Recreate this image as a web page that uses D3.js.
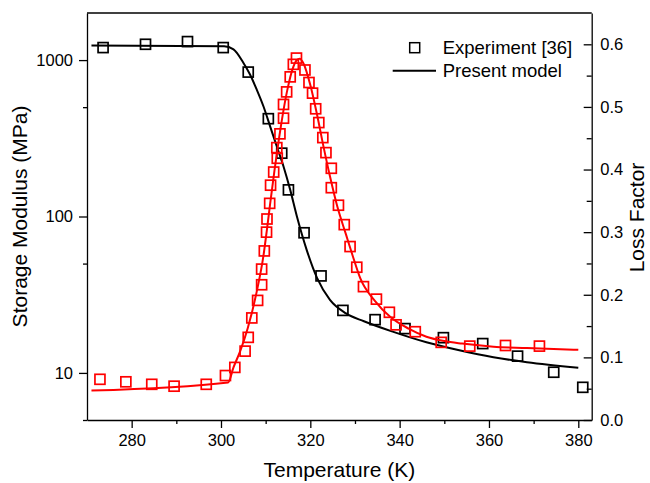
<!DOCTYPE html>
<html>
<head>
<meta charset="utf-8">
<script src="https://cdn.jsdelivr.net/npm/d3@7/dist/d3.min.js"></script>
<style>
  body { margin: 0; background: #fff; }
  svg text { font-family: "Liberation Sans", Arial, sans-serif; fill: #000; }
</style>
</head>
<body>
<svg id="chart" width="650" height="483"></svg>
<script>
// storage modulus, experiment (MPa)
const modT = [273.6, 283.1, 292.5, 300.5, 306.1, 310.6, 313.6, 315.1, 318.6, 322.4, 327.3, 334.5, 341.2, 349.8, 358.6, 366.4, 374.5, 381.0]
const modE = [1202, 1262, 1313, 1202, 838, 422, 254, 148, 78.7, 41.7, 25.1, 21.9, 19.2, 16.8, 15.4, 12.8, 10.1, 8.09]

// storage modulus, model
const modLineT = [271, 300.7, 302.8, 305, 306.5, 308, 309.5, 311, 312.5, 314, 315.5, 317, 319.2, 321.5, 324.4, 328, 332, 338.6, 346, 353.6, 361, 368.5, 380]
const modLineV = [1240, 1224, 1171, 962, 809, 648, 507, 377, 280, 209, 148, 100, 61, 40.5, 29.3, 24.0, 21.4, 18.3, 15.7, 13.9, 12.6, 11.7, 10.8]

// loss factor, experiment
const lossT = [272.9, 278.7, 284.5, 289.5, 296.7, 301.0, 303.1, 305.4, 306.1, 306.9, 308.2, 309.1, 309.1, 309.7,
  310.2, 310.3, 310.9, 311.1, 311.8, 312.6, 312.5, 313.2, 314.0, 314.0, 314.7, 315.5, 316.2, 316.9,
  318.8, 319.7, 320.5, 321.2, 321.9, 322.8, 323.5, 324.7, 324.7, 326.3, 327.6, 328.9, 330.4, 331.9,
  334.8, 337.7, 339.2, 343.5, 349.3, 355.7, 363.7, 371.3]
const lossE = [0.065, 0.061, 0.057, 0.054, 0.057, 0.071, 0.084, 0.110, 0.132, 0.163, 0.191, 0.216, 0.241, 0.270,
  0.300, 0.321, 0.346, 0.375, 0.396, 0.418, 0.435, 0.457, 0.482, 0.504, 0.524, 0.548, 0.568, 0.578,
  0.559, 0.539, 0.522, 0.497, 0.475, 0.451, 0.427, 0.402, 0.371, 0.343, 0.312, 0.277, 0.244, 0.213,
  0.193, 0.172, 0.152, 0.141, 0.124, 0.118, 0.119, 0.118]

// loss factor, model
const lossLineT = [271, 301.6, 302.8, 304.3, 306, 308, 309.5, 310.3, 311, 312, 313, 314, 315, 316, 317, 317.6, 318.5, 320, 321.5, 323, 324.5, 326, 328, 329.5, 331.2, 334.5, 338, 342, 346, 350, 354, 361, 368.5, 380]
const lossLineV = [0.047, 0.060, 0.084, 0.110, 0.147, 0.205, 0.262, 0.305, 0.345, 0.400, 0.450, 0.495, 0.532, 0.560, 0.575, 0.577, 0.569, 0.535, 0.488, 0.435, 0.386, 0.342, 0.296, 0.262, 0.226, 0.190, 0.164, 0.146, 0.133, 0.126, 0.122, 0.117, 0.115, 0.112]

// tick labels
const xTicks = [280, 300, 320, 340, 360, 380]
const xMinor = [290, 310, 330, 350, 370]
const yLeftTicks = [10, 100, 1000]
const yLeftMinor = [5, 50, 500]
const yRightTicks = [0, 0.1, 0.2, 0.3, 0.4, 0.5, 0.6]
const yRightMinor = [0.05, 0.15, 0.25, 0.35, 0.45, 0.55]

const legendLabels = ['Experiment [36]', 'Present model']

var margin = { top: 13, right: 58.3, bottom: 63, left: 87 }
var W = 650, H = 483
var svg = d3.select('#chart')

var x = d3.scaleLinear().domain([270, 383]).range([margin.left, W - margin.right])
var yL = d3.scaleLog().domain([5, 2000]).range([H - margin.bottom, margin.top])
var yR = d3.scaleLinear().domain([0, 0.65]).range([H - margin.bottom, margin.top])

var tickFont = '16.5px'

// frame top line
svg.append('line')
  .attr('x1', margin.left).attr('x2', W - margin.right)
  .attr('y1', margin.top).attr('y2', margin.top)
  .attr('stroke', '#000').attr('stroke-width', 1.3)

// bottom axis
var gx = svg.append('g').attr('transform', 'translate(0,' + (H - margin.bottom) + ')')
gx.call(d3.axisBottom(x).tickValues(xTicks).tickFormat(d3.format('d')).tickSize(8).tickSizeOuter(0).tickPadding(6))
gx.append('g').call(d3.axisBottom(x).tickValues(xMinor).tickFormat('').tickSize(4).tickSizeOuter(0))
  .select('.domain').remove()

// left axis (log)
var gl = svg.append('g').attr('transform', 'translate(' + margin.left + ',0)')
gl.call(d3.axisLeft(yL).tickValues(yLeftTicks).tickFormat(d3.format('d')).tickSize(8).tickSizeOuter(0).tickPadding(6))
gl.append('g').call(d3.axisLeft(yL).tickValues(yLeftMinor).tickFormat('').tickSize(4).tickSizeOuter(0))
  .select('.domain').remove()

// right axis, ticks pointing in
var gr = svg.append('g').attr('transform', 'translate(' + (W - margin.right) + ',0)')
gr.call(d3.axisRight(yR).tickValues(yRightTicks).tickFormat(d3.format('.1f')).tickSize(-8).tickSizeOuter(0).tickPadding(8.5))
gr.append('g').call(d3.axisRight(yR).tickValues(yRightMinor).tickFormat('').tickSize(-5).tickSizeOuter(0))
  .select('.domain').remove()

svg.selectAll('.domain, .tick line').attr('stroke', '#000').attr('stroke-width', 1.3)
svg.selectAll('.tick text').style('font-size', tickFont).attr('fill', '#000')

// axis titles
svg.append('text')
  .attr('x', (margin.left + W - margin.right) / 2).attr('y', 476.5)
  .attr('text-anchor', 'middle').style('font-size', '21px')
  .text('Temperature (K)')

svg.append('text')
  .attr('transform', 'translate(27,' + ((margin.top + H - margin.bottom) / 2) + ') rotate(-90)')
  .attr('text-anchor', 'middle').style('font-size', '21px')
  .text('Storage Modulus (MPa)')

svg.append('text')
  .attr('transform', 'translate(644,217.5) rotate(-90)')
  .attr('text-anchor', 'middle').style('font-size', '21px')
  .text('Loss Factor')

var sq = 10

// modulus: model line + squares
var modLine = d3.line()
  .x(function (d, i) { return x(modLineT[i]) })
  .y(function (d) { return yL(d) })
  .curve(d3.curveMonotoneX)

svg.append('path')
  .datum(modLineV)
  .attr('d', modLine)
  .attr('fill', 'none').attr('stroke', '#000').attr('stroke-width', 2)

svg.append('g').selectAll('rect')
  .data(modE)
  .enter().append('rect')
  .attr('x', function (d, i) { return x(modT[i]) - sq / 2 })
  .attr('y', function (d) { return yL(d) - sq / 2 })
  .attr('width', sq).attr('height', sq)
  .attr('fill', 'none').attr('stroke', '#000').attr('stroke-width', 1.7)

// loss factor: model line + squares
var lossLine = d3.line()
  .x(function (d, i) { return x(lossLineT[i]) })
  .y(function (d) { return yR(d) })
  .curve(d3.curveMonotoneX)

svg.append('path')
  .datum(lossLineV)
  .attr('d', lossLine)
  .attr('fill', 'none').attr('stroke', '#ff0000').attr('stroke-width', 2)

svg.append('g').selectAll('rect')
  .data(lossE)
  .enter().append('rect')
  .attr('x', function (d, i) { return x(lossT[i]) - sq / 2 })
  .attr('y', function (d) { return yR(d) - sq / 2 })
  .attr('width', sq).attr('height', sq)
  .attr('fill', 'none').attr('stroke', '#ff0000').attr('stroke-width', 1.7)

// legend
var leg = svg.append('g')
leg.append('rect')
  .attr('x', 414.7 - sq / 2).attr('y', 47.7 - sq / 2)
  .attr('width', sq).attr('height', sq)
  .attr('fill', 'none').attr('stroke', '#000').attr('stroke-width', 1.5)
leg.append('line')
  .attr('x1', 392.7).attr('x2', 436).attr('y1', 70.7).attr('y2', 70.7)
  .attr('stroke', '#000').attr('stroke-width', 2)
leg.selectAll('text')
  .data(legendLabels)
  .enter().append('text')
  .attr('x', 442.7)
  .attr('y', function (d, i) { return 47.7 + i * 23 })
  .attr('dy', '0.35em')
  .style('font-size', '18.5px')
  .text(function (d) { return d })
</script>
</body>
</html>
